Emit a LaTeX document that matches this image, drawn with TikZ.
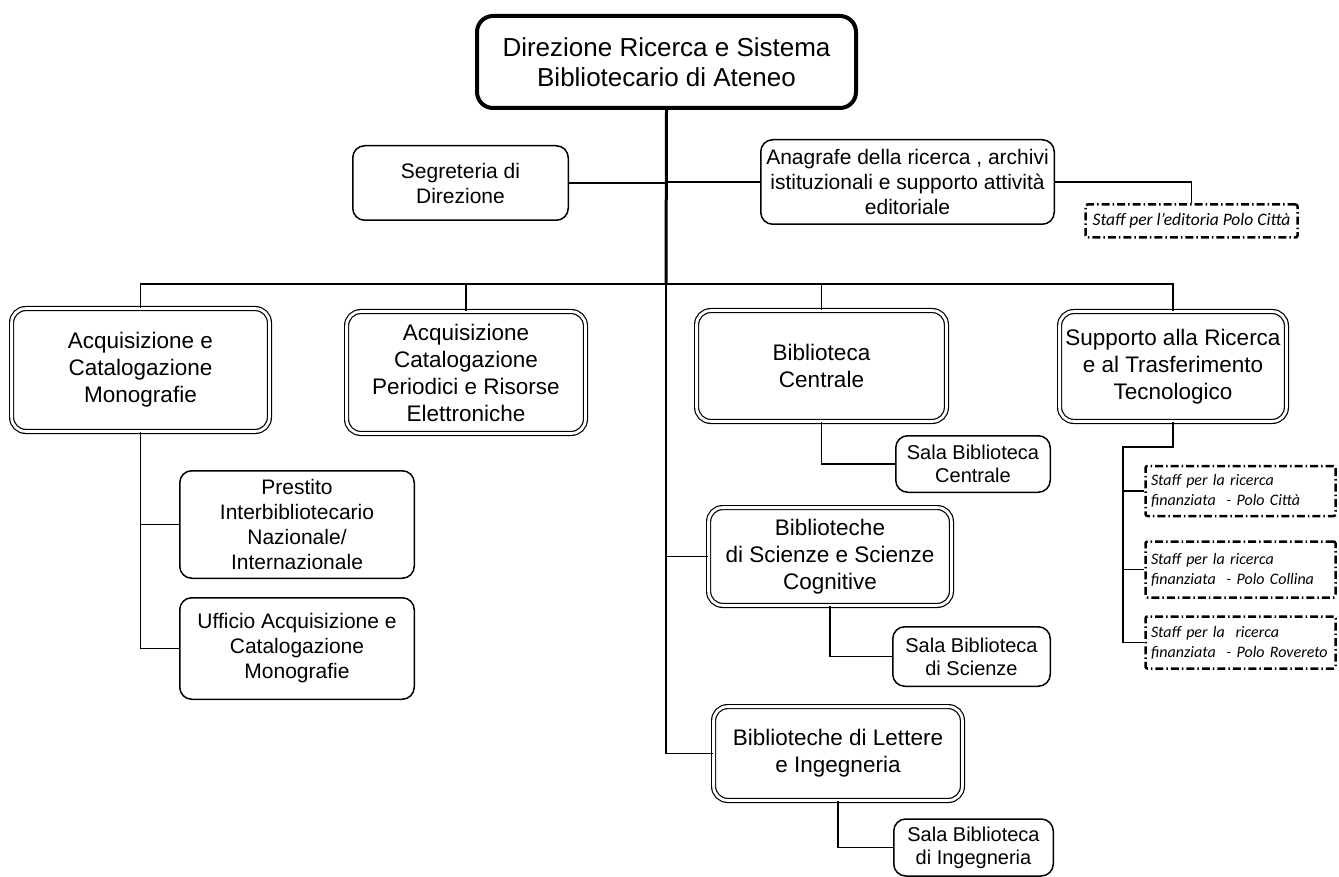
\documentclass[tikz,border=0pt]{standalone}
\usepackage{fontspec}
\setmainfont{Liberation Sans}
\newfontfamily\staffont{Carlito}
\begin{document}
\begin{tikzpicture}[x=1pt,y=-1pt,
  box/.style={draw, rounded corners=12pt, line width=1.5pt, align=center, inner sep=2pt, font=\fontsize{21}{25}\selectfont},
  dbox/.style={draw, rounded corners=14pt, line width=1.2pt, double=white, double distance=2.8pt, align=center, inner sep=2pt, font=\fontsize{22.5}{27}\selectfont},
  topbox/.style={draw, rounded corners=16pt, line width=4pt, align=center, font=\fontsize{26}{30}\selectfont},
  staffbox/.style={draw, rounded corners=2pt, line width=2.5pt, dash pattern=on 8pt off 3pt on 1.5pt off 3pt, font=\staffont\itshape\fontsize{16}{20}\selectfont},
  rbox/.style={staffbox, minimum width=190pt, text width=179pt, align=left, inner xsep=5.5pt, inner ysep=0pt},
  conn/.style={line width=1.8pt},
  trunk/.style={line width=3pt}
]
\useasboundingbox (0,0) rectangle (1339,877);

\node[topbox, minimum width=379pt, minimum height=92pt] (top) at (666.5,62) {Direzione Ricerca e Sistema\\Bibliotecario di Ateneo};

\node[box, minimum width=215.5pt, minimum height=74.5pt] (segr) at (460.5,183) {Segreteria di\\Direzione};
\node[box, minimum width=293.5pt, minimum height=84.5pt] (anag) at (907.5,182) {Anagrafe della ricerca , archivi\\istituzionali e supporto attività\\editoriale};
\node[staffbox, font=\staffont\itshape\fontsize{17.5}{20}\selectfont, minimum width=212pt, minimum height=33pt, inner sep=0pt] (sted) at (1191.5,221) {Staff per l’editoria Polo Città};

\node[dbox, minimum width=257.8pt, minimum height=122.8pt] (acqm) at (140.5,370) {Acquisizione e\\Catalogazione\\Monografie};
\node[dbox, minimum width=238.8pt, minimum height=121.8pt] (peri) at (466,372.5) {Acquisizione\\Catalogazione\\Periodici e Risorse\\Elettroniche};
\node[dbox, minimum width=249.8pt, minimum height=110.8pt] (bibc) at (821.5,366) {Biblioteca\\Centrale};
\node[dbox, minimum width=226.8pt, minimum height=109.8pt] (supp) at (1173,366.5) {Supporto alla Ricerca\\e al Trasferimento\\Tecnologico};

\node[box, font=\fontsize{20}{23}\selectfont, minimum width=154.5pt, minimum height=56.5pt] (salac) at (973,464) {Sala Biblioteca\\Centrale};
\node[dbox, minimum width=242.8pt, minimum height=97.8pt] (scie) at (830,556.5) {Biblioteche\\di Scienze e Scienze\\Cognitive};
\node[box, font=\fontsize{20}{23}\selectfont, minimum width=157.5pt, minimum height=59.5pt] (salas) at (971.5,656.5) {Sala Biblioteca\\di Scienze};
\node[dbox, minimum width=248.8pt, minimum height=93.8pt] (lett) at (838,753.5) {Biblioteche di Lettere\\e Ingegneria};
\node[box, font=\fontsize{20}{23}\selectfont, minimum width=159.5pt, minimum height=57pt] (salai) at (973.5,847.5) {Sala Biblioteca\\di Ingegneria};

\node[box, minimum width=234.5pt, minimum height=107.5pt] (prest) at (297,524.5) {Prestito\\Interbibliotecario\\Nazionale/\\Internazionale};
\node[box, minimum width=234.5pt, minimum height=101.5pt] (uffi) at (297,648.5) {Ufficio Acquisizione e\\Catalogazione\\Monografie};

\node[rbox, minimum height=50pt] (s1) at (1240.5,491) {Staff per la ricerca\\finanziata\ \ - Polo Città};
\node[rbox, minimum height=56pt] (s2) at (1240.5,569.5) {Staff per la ricerca\\finanziata\ \ - Polo Collina};
\node[rbox, minimum height=52pt] (s3) at (1240.5,642.5) {Staff per la\ \ ricerca\\finanziata\ \ - Polo Rovereto};

% connectors
\coordinate (bar) at (666,284);
\draw[trunk] (top.south) -- (bar);
\draw[conn] (bar) |- (lett.west);
\draw[conn] (bar |- scie.west) -- (scie.west);
\draw[conn] (segr.east) -- (segr.east -| top.south);
\draw[conn] (anag.west) -- (anag.west -| top.south);
\draw[conn] (anag.east) -| (sted.north);
\draw[conn] (acqm.north) -- (acqm.north |- bar) -- (supp.north |- bar) -- (supp.north);
\draw[conn] (peri.north) -- (peri.north |- bar);
\draw[conn] (bibc.north) -- (bibc.north |- bar);
\draw[conn] (acqm.south) |- (uffi.west);
\draw[conn] (acqm.south |- prest.west) -- (prest.west);
\draw[conn] (bibc.south) |- (salac.west);
\draw[conn] (scie.south) |- (salas.west);
\draw[conn] (lett.south) |- (salai.west);
\coordinate (sj) at (1123,447);
\draw[conn] (supp.south) |- (sj) |- (s3.west);
\draw[conn] (sj |- s1.west) -- (s1.west);
\draw[conn] (sj |- s2.west) -- (s2.west);
\end{tikzpicture}
\end{document}
